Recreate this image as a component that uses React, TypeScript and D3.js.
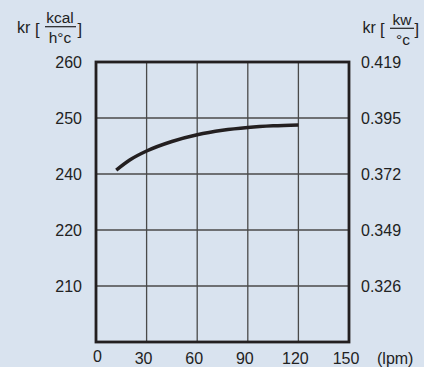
import React from "react";
import * as d3 from "d3";

const xTicks = [0, 30, 60, 90, 120, 150];
const yLeftLevels = [260, 250, 240, 220, 210];
const yRightLabels = ["0.419", "0.395", "0.372", "0.349", "0.326"];
const flowLpm = [12, 20, 30, 45, 60, 75, 90, 105, 120];
const krKcal = [240.7, 242.5, 244.1, 245.8, 247.0, 247.8, 248.3, 248.6, 248.75];

const W = 424;
const H = 367;
const FONT = "'Liberation Sans', Arial, Helvetica, sans-serif";

export default function App() {
  const x = d3.scaleLinear().domain([0, 150]).range([96, 349]);
  // piecewise scale: labelled grid levels are evenly spaced
  const y = d3
    .scaleLinear()
    .domain([200, 210, 220, 240, 250, 260])
    .range([342, 286, 230, 174, 118, 62]);

  const line = d3
    .line<number>()
    .x((_, i) => x(flowLpm[i]))
    .y((d) => y(d))
    .curve(d3.curveMonotoneX);

  const gridColor = "#4a4a4a";
  const ink = "#231f20";
  const fs = 16;

  return (
    <div style={{ position: "fixed", left: 0, top: 0 }}>
      <svg width={W} height={H} style={{ display: "block" }} fontFamily={FONT}>
        <rect x={0} y={0} width={W} height={H} fill="#d9e3ef" />
        {xTicks.slice(1, -1).map((t) => (
          <line key={"vx" + t} x1={x(t)} x2={x(t)} y1={y(260)} y2={y(200)} stroke={gridColor} strokeWidth={1.3} />
        ))}
        {yLeftLevels.slice(1).map((t) => (
          <line key={"hy" + t} x1={x(0)} x2={x(150)} y1={y(t)} y2={y(t)} stroke={gridColor} strokeWidth={1.3} />
        ))}
        <rect x={x(0)} y={y(260)} width={x(150) - x(0)} height={y(200) - y(260)} fill="none" stroke={ink} strokeWidth={2.8} />
        <path d={line(krKcal) || ""} fill="none" stroke={ink} strokeWidth={3.5} />
        {yLeftLevels.map((t) => (
          <text key={"yl" + t} x={82} y={y(t)} dy="0.36em" textAnchor="end" fontSize={fs} fill="#222">
            {t}
          </text>
        ))}
        {yLeftLevels.map((t, i) => (
          <text key={"yr" + t} x={361} y={y(t)} dy="0.36em" textAnchor="start" fontSize={fs} fill="#222">
            {yRightLabels[i]}
          </text>
        ))}
        {xTicks.map((t, i) => (
          <text key={"xl" + t} x={x(t) - (i === 0 ? -1.5 : 3)} y={i === 0 ? 361.5 : 364} textAnchor="middle" fontSize={fs} fill="#222">
            {t}
          </text>
        ))}
        <text x={377} y={364} fontSize={fs} fill="#222">(lpm)</text>
        <g fill="#222">
          <text x={17} y={33} fontSize={fs}>kr</text>
          <text x={35} y={35} fontSize={16.5}>[</text>
          <text x={60} y={22.5} fontSize={15.5} textAnchor="middle">kcal</text>
          <line x1={45} x2={76} y1={26.7} y2={26.7} stroke="#222" strokeWidth={1.2} />
          <text x={60} y={43} fontSize={15.5} textAnchor="middle">h°c</text>
          <text x={77.5} y={35} fontSize={16.5}>]</text>
        </g>
        <g fill="#222">
          <text x={362.5} y={33} fontSize={fs}>kr</text>
          <text x={380} y={35} fontSize={16.5}>[</text>
          <text x={402} y={25} fontSize={15.5} textAnchor="middle">kw</text>
          <line x1={390} x2={414} y1={28.3} y2={28.3} stroke="#222" strokeWidth={1.2} />
          <text x={403} y={45} fontSize={15.5} textAnchor="middle">°c</text>
          <text x={414.5} y={35} fontSize={16.5}>]</text>
        </g>
      </svg>
    </div>
  );
}
